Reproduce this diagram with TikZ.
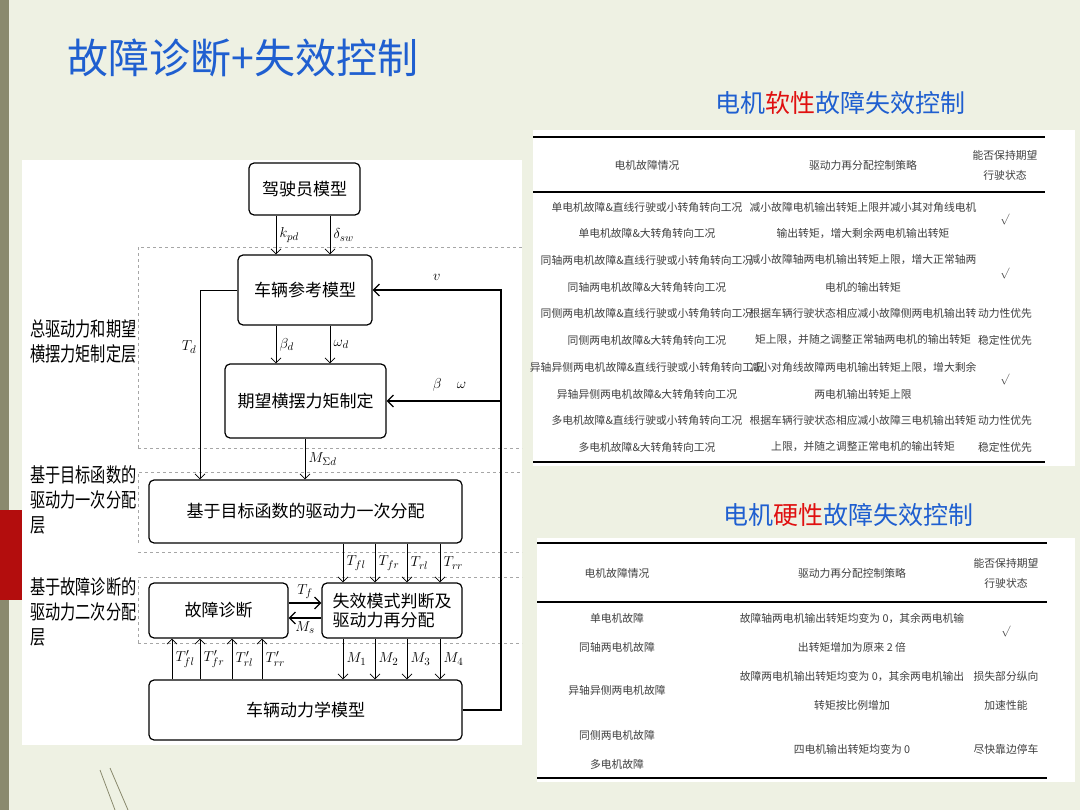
\documentclass[tikz,border=0pt]{standalone}
\usepackage{fontspec}
\setmainfont{Noto Sans CJK SC}
\newfontfamily\narrowcjk[FakeStretch=0.76]{Noto Sans CJK SC}
\usetikzlibrary{arrows.meta,calc,positioning}
\definecolor{slidebg}{HTML}{EEF1E3}
\definecolor{titleblue}{HTML}{1F5FD0}
\definecolor{softred}{HTML}{E01010}
\definecolor{olivebar}{HTML}{8A8A6E}
\tikzset{
  blk/.style={draw, very thick, rounded corners=5pt, fill=white, font=\fontsize{17}{19}\selectfont, inner sep=0pt},
  layer/.style={draw=gray!70, dashed},
  sig/.style={-{Straight Barb[length=5pt]}, thick},
  fb/.style={-{Straight Barb[length=6pt]}, very thick},
  lab/.style={font=\fontsize{15}{16}\selectfont},
  side/.style={font=\narrowcjk\fontsize{20}{25}\selectfont, align=left, anchor=north west, inner sep=0pt},
  cell/.style={font=\fontsize{10.8}{12}\selectfont, text=black!75},
  rule/.style={line width=1.6pt}
}
\begin{document}
\begin{tikzpicture}[x=1pt, y=-1pt]
    % slide background
    \useasboundingbox (0,0) rectangle (1080,810);
    \fill[slidebg] (0,0) rectangle (1080,810);
    \fill[olivebar] (0,0) rectangle (9,810);
    \fill[softred!80!black] (0,510) rectangle (22,600);
    \draw[olivebar, thick] (100,770) -- (115,810) (110,768) -- (128,810);

    % title
    \node[anchor=west, text=titleblue, font=\fontsize{41}{43}\selectfont] (title) at (64,58) {故障诊断+失效控制};

    % LEFT: control structure
    \fill[white] (22,160) rectangle (522,745);
    \draw[layer] (138,448) -- (138,247) -- (522,247);
    \draw[layer] (138,448) -- (522,448);
    \draw[layer] (138,543) -- (138,472) -- (522,472);
    \draw[layer] (138,552) -- (522,552);
    \draw[layer] (138,643) -- (138,577) -- (522,577);
    \draw[layer] (138,643) -- (522,643);

    \node[side] (lay1) at (30,320) {总驱动力和期望\\横摆力矩制定层};
    \node[side] (lay2) at (30,465) {基于目标函数的\\驱动力一次分配\\层};
    \node[side] (lay3) at (30,577) {基于故障诊断的\\驱动力二次分配\\层};

    \node[blk, minimum width=111pt, minimum height=52pt] (driver) at (304.5,189) {驾驶员模型};
    \node[blk, minimum width=134pt, minimum height=70pt] (ref) at (305,290) {车辆参考模型};
    \node[blk, minimum width=161pt, minimum height=74pt] (yaw) at (305.5,401) {期望横摆力矩制定};
    \node[blk, minimum width=313pt, minimum height=63pt] (alloc) at (305.5,511.5) {基于目标函数的驱动力一次分配};
    \node[blk, minimum width=139pt, minimum height=55pt] (diag) at (218.5,610.5) {故障诊断};
    \node[blk, minimum width=140pt, minimum height=55pt, align=left] (realloc) at (392,610.5) {失效模式判断及\\驱动力再分配};
    \node[blk, minimum width=313pt, minimum height=60pt] (dyn) at (305.5,710) {车辆动力学模型};

    % driver to reference model
    \draw[sig] (driver.south -| 276,0) -- (ref.north -| 276,0) node[lab, midway, right] {$k_{pd}$};
    \draw[sig] (driver.south -| 330,0) -- (ref.north -| 330,0) node[lab, midway, right] {$\delta_{sw}$};
    \draw[sig] (ref.south -| 276,0) -- (yaw.north -| 276,0) node[lab, midway, right] {$\beta_d$};
    \draw[sig] (ref.south -| 330,0) -- (yaw.north -| 330,0) node[lab, midway, right] {$\omega_d$};
    \draw[sig] (yaw.south -| 305,0) -- (alloc.north -| 305,0) node[lab, midway, right] {$M_{\Sigma d}$};
    \draw[sig] (ref.west) -| (alloc.north -| 200,0) node[lab, pos=0.65, left] {$T_d$};

    % first to second allocation
    \foreach \x/\t in {343/fl, 375/fr, 407/rl, 440/rr}
        \draw[sig] (alloc.south -| \x,0) -- (realloc.north -| \x,0) node[lab, midway, right] {$T_{\t}$};
    \foreach \x/\i in {343/1, 375/2, 407/3, 440/4}
        \draw[sig] (realloc.south -| \x,0) -- (dyn.north -| \x,0) node[lab, midway, right] {$M_{\i}$};
    \foreach \x/\t in {172/fl, 200/fr, 232/rl, 262/rr}
        \draw[sig] (dyn.north -| \x,0) -- (diag.south -| \x,0) node[lab, midway, right] {$T_{\t}'$};
    \draw[fb] (diag.east |- 0,603) -- (realloc.west |- 0,603) node[lab, midway, above] {$T_f$};
    \draw[fb] (realloc.west |- 0,618) -- (diag.east |- 0,618) node[lab, midway, below] {$M_s$};

    % feedback from vehicle dynamics
    \coordinate (fbr) at (501,710);
    \draw[fb] (dyn.east) -- (fbr) -- (fbr |- ref.east) -- (ref.east) node[lab, pos=0.5, above=6pt] {$v$};
    \draw[fb] (fbr |- yaw.east) -- (yaw.east) node[lab, pos=0.45, above=6pt] {$\beta\quad\omega$};

    % RIGHT: soft fault table
    \node[font=\fontsize{25}{27}\selectfont, text=titleblue] (soft) at (840,103) {电机\textcolor{softred}{软性}故障失效控制};
    \fill[white] (533,130) rectangle (1075,466);
    \draw[rule] (533,137) -- (1045,137) (533,192) -- (1045,192) (533,462) -- (1045,462);
    \node[cell] at (647,165) {电机故障情况};
    \node[cell] at (863,165) {驱动力再分配控制策略};
    \node[cell, align=center] at (1005,165) {能否保持期望\\[8pt]行驶状态};
    \foreach \y/\a/\b in {
      207/单电机故障\&直线行驶或小转角转向工况/减小故障电机输出转矩上限并减小其对角线电机,
      233/单电机故障\&大转角转向工况/输出转矩，增大剩余两电机输出转矩,
      260/同轴两电机故障\&直线行驶或小转角转向工况/减小故障轴两电机输出转矩上限，增大正常轴两,
      287/同轴两电机故障\&大转角转向工况/电机的输出转矩,
      313/同侧两电机故障\&直线行驶或小转角转向工况/根据车辆行驶状态相应减小故障侧两电机输出转,
      340/同侧两电机故障\&大转角转向工况/矩上限，并随之调整正常轴两电机的输出转矩,
      367/异轴异侧两电机故障\&直线行驶或小转角转向工况/减小对角线故障两电机输出转矩上限，增大剩余,
      394/异轴异侧两电机故障\&大转角转向工况/两电机输出转矩上限,
      420/多电机故障\&直线行驶或小转角转向工况/根据车辆行驶状态相应减小故障三电机输出转矩,
      447/多电机故障\&大转角转向工况/上限，并随之调整正常电机的输出转矩}
      { \node[cell] at (647,\y) {\a}; \node[cell] at (863,\y) {\b}; }
    \foreach \y/\c in {220/$\surd$, 274/$\surd$, 313/动力性优先, 340/稳定性优先, 380/$\surd$, 420/动力性优先, 447/稳定性优先}
      \node[cell] at (1005,\y) {\c};

    % RIGHT: hard fault table
    \node[font=\fontsize{25}{27}\selectfont, text=titleblue] (hard) at (848,515) {电机\textcolor{softred}{硬性}故障失效控制};
    \fill[white] (537,538) rectangle (1075,782);
    \draw[rule] (537,543) -- (1047,543) (537,602) -- (1047,602) (537,778) -- (1047,778);
    \node[cell] at (617,573) {电机故障情况};
    \node[cell] at (852,573) {驱动力再分配控制策略};
    \node[cell, align=center] at (1006,573) {能否保持期望\\[8pt]行驶状态};
    \foreach \y/\a in {618/单电机故障, 647/同轴两电机故障, 690/异轴异侧两电机故障, 735/同侧两电机故障, 764/多电机故障}
      \node[cell] at (617,\y) {\a};
    \foreach \y/\b in {618/故障轴两电机输出转矩均变为 0，其余两电机输, 647/出转矩增加为原来 2 倍, 676/故障两电机输出转矩均变为 0，其余两电机输出, 705/转矩按比例增加, 749/四电机输出转矩均变为 0}
      \node[cell] at (852,\y) {\b};
    \foreach \y/\c in {632/$\surd$, 676/损失部分纵向, 705/加速性能, 749/尽快靠边停车}
      \node[cell] at (1006,\y) {\c};
\end{tikzpicture}
\end{document}
